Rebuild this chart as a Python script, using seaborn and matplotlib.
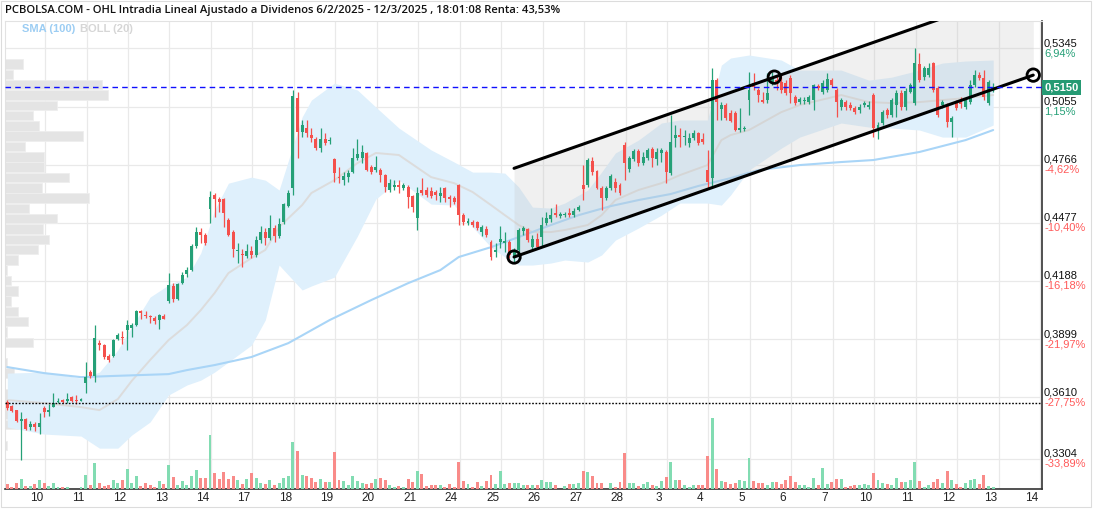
import numpy as np
import matplotlib
matplotlib.use('Agg')
import matplotlib.pyplot as plt
import matplotlib.transforms as mtransforms
from matplotlib.patches import Rectangle
import seaborn as sns

# ---- datos (velas intradia, ~9 por sesion) ----
apertura = [
    0.3586, 0.3566, 0.3546, 0.3492, 0.3502, 0.3462, 0.3477, 0.3462, 0.3556, 0.3536,
    0.3561, 0.3586, 0.3596, 0.3591, 0.3611, 0.3596, 0.3591, 0.3681, 0.3735, 0.3715,
    0.3879, 0.3869, 0.3815, 0.3815, 0.3899, 0.3909, 0.3944, 0.3954, 0.3969, 0.4038,
    0.4018, 0.4013, 0.4004, 0.3994, 0.4013, 0.4088, 0.4163, 0.4098, 0.4177, 0.4222,
    0.4242, 0.4361, 0.4431, 0.4416, 0.4545, 0.4615, 0.4595, 0.4595, 0.4491, 0.4431,
    0.4337, 0.4322, 0.4312, 0.4337, 0.4317, 0.4391, 0.4431, 0.4401, 0.4451, 0.4411,
    0.4481, 0.4560, 0.4650, 0.5097, 0.4928, 0.4948, 0.4913, 0.4893, 0.4848, 0.4893,
    0.4883, 0.4794, 0.4704, 0.4689, 0.4704, 0.4729, 0.4799, 0.4799, 0.4824, 0.4754,
    0.4739, 0.4739, 0.4714, 0.4640, 0.4655, 0.4665, 0.4650, 0.4655, 0.4610, 0.4501,
    0.4640, 0.4640, 0.4635, 0.4630, 0.4610, 0.4650, 0.4605, 0.4600, 0.4665, 0.4515,
    0.4476, 0.4481, 0.4481, 0.4431, 0.4446, 0.4381, 0.4332, 0.4381, 0.4376, 0.4381,
    0.4302, 0.4342, 0.4436, 0.4446, 0.4356, 0.4396, 0.4406, 0.4476, 0.4496, 0.4525,
    0.4511, 0.4515, 0.4525, 0.4515, 0.4540, 0.4665, 0.4665, 0.4784, 0.4734, 0.4650,
    0.4600, 0.4650, 0.4679, 0.4665, 0.4863, 0.4744, 0.4794, 0.4834, 0.4774, 0.4799,
    0.4843, 0.4794, 0.4824, 0.4829, 0.4724, 0.4898, 0.4913, 0.4903, 0.4873, 0.4898,
    0.4923, 0.4893, 0.4739, 0.4699, 0.5186, 0.5042, 0.5062, 0.5022, 0.5022, 0.4938,
    0.4943, 0.5087, 0.5171, 0.5137, 0.5087, 0.5087, 0.5171, 0.5186, 0.5176, 0.5171,
    0.5196, 0.5102, 0.5077, 0.5082, 0.5077, 0.5087, 0.5157, 0.5127, 0.5137, 0.5186,
    0.5137, 0.5052, 0.5077, 0.5062, 0.5047, 0.5037, 0.5062, 0.5052, 0.5112, 0.4948,
    0.4973, 0.5037, 0.5012, 0.5062, 0.5122, 0.5052, 0.5127, 0.5072, 0.5266, 0.5201,
    0.5211, 0.5271, 0.5147, 0.5062, 0.5062, 0.4978, 0.5072, 0.5087, 0.5052, 0.5077,
    0.5162, 0.5211, 0.5196, 0.5072, 0.5142,
]
maximo = [
    0.3596, 0.3571, 0.3546, 0.3536, 0.3507, 0.3492, 0.3487, 0.3531, 0.3566, 0.3576,
    0.3631, 0.3606, 0.3601, 0.3631, 0.3616, 0.3621, 0.3606, 0.3785, 0.3745, 0.3969,
    0.3894, 0.3874, 0.3825, 0.3899, 0.3929, 0.3939, 0.3994, 0.3979, 0.4043, 0.4043,
    0.4038, 0.4018, 0.4013, 0.4023, 0.4023, 0.4227, 0.4177, 0.4177, 0.4232, 0.4257,
    0.4371, 0.4456, 0.4451, 0.4426, 0.4635, 0.4625, 0.4605, 0.4600, 0.4501, 0.4441,
    0.4376, 0.4346, 0.4371, 0.4361, 0.4411, 0.4461, 0.4451, 0.4515, 0.4466, 0.4501,
    0.4575, 0.4640, 0.5137, 0.5127, 0.4988, 0.4988, 0.4948, 0.4903, 0.4948, 0.4923,
    0.4903, 0.4799, 0.4754, 0.4729, 0.4739, 0.4848, 0.4893, 0.4863, 0.4829, 0.4764,
    0.4809, 0.4749, 0.4719, 0.4694, 0.4689, 0.4689, 0.4674, 0.4665, 0.4615, 0.4655,
    0.4699, 0.4655, 0.4655, 0.4640, 0.4655, 0.4655, 0.4615, 0.4610, 0.4670, 0.4525,
    0.4501, 0.4491, 0.4486, 0.4466, 0.4461, 0.4391, 0.4376, 0.4461, 0.4431, 0.4391,
    0.4351, 0.4451, 0.4461, 0.4451, 0.4416, 0.4426, 0.4506, 0.4530, 0.4550, 0.4570,
    0.4530, 0.4530, 0.4550, 0.4550, 0.4565, 0.4764, 0.4799, 0.4804, 0.4739, 0.4660,
    0.4660, 0.4719, 0.4699, 0.4674, 0.4878, 0.4809, 0.4843, 0.4843, 0.4829, 0.4848,
    0.4853, 0.4848, 0.4848, 0.4839, 0.5012, 0.4963, 0.4948, 0.4938, 0.4923, 0.4938,
    0.4928, 0.4923, 0.4839, 0.5246, 0.5196, 0.5077, 0.5072, 0.5037, 0.5032, 0.5047,
    0.4958, 0.5226, 0.5221, 0.5147, 0.5127, 0.5221, 0.5226, 0.5211, 0.5211, 0.5186,
    0.5211, 0.5112, 0.5102, 0.5102, 0.5112, 0.5167, 0.5167, 0.5186, 0.5221, 0.5196,
    0.5147, 0.5097, 0.5087, 0.5077, 0.5057, 0.5067, 0.5082, 0.5082, 0.5122, 0.4978,
    0.5037, 0.5047, 0.5097, 0.5137, 0.5137, 0.5147, 0.5171, 0.5345, 0.5321, 0.5256,
    0.5271, 0.5276, 0.5157, 0.5087, 0.5072, 0.5007, 0.5087, 0.5102, 0.5097, 0.5186,
    0.5236, 0.5226, 0.5236, 0.5186, 0.5171,
]
minimo = [
    0.3546, 0.3536, 0.3487, 0.3298, 0.3447, 0.3447, 0.3442, 0.3427, 0.3512, 0.3517,
    0.3561, 0.3581, 0.3581, 0.3581, 0.3586, 0.3576, 0.3591, 0.3631, 0.3705, 0.3686,
    0.3845, 0.3800, 0.3785, 0.3810, 0.3894, 0.3874, 0.3845, 0.3909, 0.3964, 0.3999,
    0.4004, 0.3979, 0.3974, 0.3949, 0.3999, 0.4078, 0.4083, 0.4093, 0.4173, 0.4207,
    0.4237, 0.4351, 0.4376, 0.4366, 0.4476, 0.4506, 0.4530, 0.4456, 0.4411, 0.4307,
    0.4277, 0.4257, 0.4302, 0.4302, 0.4307, 0.4376, 0.4366, 0.4391, 0.4381, 0.4401,
    0.4471, 0.4555, 0.4615, 0.4799, 0.4903, 0.4903, 0.4878, 0.4839, 0.4829, 0.4863,
    0.4868, 0.4679, 0.4674, 0.4665, 0.4679, 0.4724, 0.4789, 0.4774, 0.4734, 0.4719,
    0.4729, 0.4679, 0.4630, 0.4630, 0.4640, 0.4625, 0.4640, 0.4550, 0.4530, 0.4441,
    0.4615, 0.4605, 0.4600, 0.4590, 0.4580, 0.4580, 0.4555, 0.4570, 0.4466, 0.4466,
    0.4466, 0.4456, 0.4441, 0.4411, 0.4406, 0.4292, 0.4307, 0.4351, 0.4332, 0.4302,
    0.4282, 0.4332, 0.4416, 0.4381, 0.4346, 0.4351, 0.4356, 0.4466, 0.4481, 0.4506,
    0.4501, 0.4506, 0.4506, 0.4506, 0.4535, 0.4590, 0.4655, 0.4714, 0.4645, 0.4540,
    0.4590, 0.4640, 0.4630, 0.4615, 0.4689, 0.4729, 0.4784, 0.4759, 0.4764, 0.4789,
    0.4754, 0.4764, 0.4779, 0.4674, 0.4714, 0.4853, 0.4853, 0.4863, 0.4853, 0.4888,
    0.4863, 0.4868, 0.4650, 0.4655, 0.4988, 0.4988, 0.4988, 0.4978, 0.4933, 0.4928,
    0.4933, 0.5012, 0.5137, 0.5077, 0.5072, 0.5072, 0.5162, 0.5137, 0.5122, 0.5112,
    0.5072, 0.5062, 0.5067, 0.5067, 0.5067, 0.5037, 0.5137, 0.5117, 0.5127, 0.5152,
    0.5003, 0.5037, 0.5037, 0.5037, 0.5017, 0.5022, 0.5052, 0.5042, 0.4903, 0.4893,
    0.4963, 0.4998, 0.5003, 0.5003, 0.5037, 0.5037, 0.5122, 0.5062, 0.5176, 0.5186,
    0.5201, 0.5127, 0.5003, 0.5047, 0.4953, 0.4903, 0.5037, 0.5047, 0.5042, 0.5067,
    0.5152, 0.5186, 0.5087, 0.5062, 0.5127,
]
cierre = [
    0.3556, 0.3541, 0.3492, 0.3502, 0.3452, 0.3477, 0.3462, 0.3482, 0.3536, 0.3546,
    0.3581, 0.3591, 0.3586, 0.3601, 0.3591, 0.3591, 0.3601, 0.3710, 0.3715, 0.3904,
    0.3869, 0.3810, 0.3795, 0.3894, 0.3919, 0.3904, 0.3969, 0.3969, 0.4038, 0.4028,
    0.4013, 0.4008, 0.3989, 0.4018, 0.3999, 0.4168, 0.4098, 0.4173, 0.4217, 0.4242,
    0.4361, 0.4431, 0.4416, 0.4376, 0.4605, 0.4595, 0.4580, 0.4525, 0.4416, 0.4346,
    0.4342, 0.4317, 0.4337, 0.4317, 0.4391, 0.4431, 0.4401, 0.4451, 0.4411, 0.4471,
    0.4570, 0.4625, 0.5107, 0.4928, 0.4963, 0.4923, 0.4898, 0.4848, 0.4893, 0.4873,
    0.4888, 0.4724, 0.4699, 0.4709, 0.4724, 0.4799, 0.4819, 0.4829, 0.4739, 0.4729,
    0.4754, 0.4714, 0.4655, 0.4674, 0.4665, 0.4655, 0.4665, 0.4605, 0.4555, 0.4625,
    0.4625, 0.4615, 0.4610, 0.4615, 0.4625, 0.4600, 0.4595, 0.4580, 0.4515, 0.4481,
    0.4486, 0.4466, 0.4451, 0.4456, 0.4416, 0.4307, 0.4342, 0.4396, 0.4386, 0.4317,
    0.4332, 0.4441, 0.4451, 0.4391, 0.4396, 0.4356, 0.4466, 0.4501, 0.4515, 0.4515,
    0.4520, 0.4520, 0.4515, 0.4535, 0.4555, 0.4645, 0.4789, 0.4729, 0.4650, 0.4600,
    0.4650, 0.4709, 0.4650, 0.4625, 0.4774, 0.4799, 0.4834, 0.4774, 0.4804, 0.4839,
    0.4799, 0.4829, 0.4839, 0.4729, 0.4878, 0.4913, 0.4903, 0.4908, 0.4898, 0.4923,
    0.4873, 0.4878, 0.4679, 0.5186, 0.5077, 0.5062, 0.4998, 0.4983, 0.4938, 0.4948,
    0.4948, 0.5137, 0.5152, 0.5112, 0.5077, 0.5122, 0.5201, 0.5176, 0.5137, 0.5122,
    0.5122, 0.5072, 0.5092, 0.5087, 0.5102, 0.5162, 0.5147, 0.5171, 0.5191, 0.5162,
    0.5077, 0.5087, 0.5052, 0.5047, 0.5027, 0.5052, 0.5072, 0.5062, 0.4948, 0.4963,
    0.5027, 0.5012, 0.5087, 0.5122, 0.5052, 0.5132, 0.5162, 0.5271, 0.5186, 0.5246,
    0.5246, 0.5137, 0.5012, 0.5077, 0.4978, 0.4998, 0.5047, 0.5067, 0.5087, 0.5162,
    0.5211, 0.5196, 0.5102, 0.5176, 0.5150,
]
volumen = [
    47, 23, 57, 97, 30, 30, 47, 87, 57, 30,
    57, 20, 20, 20, 0, 0, 20, 137, 37, 257,
    57, 30, 37, 87, 57, 87, 200, 57, 127, 30,
    57, 37, 23, 77, 47, 237, 117, 37, 77, 37,
    127, 187, 107, 107, 537, 157, 97, 167, 97, 127,
    87, 47, 97, 157, 107, 57, 47, 87, 37, 57,
    107, 127, 467, 380, 137, 127, 107, 67, 97, 67,
    67, 367, 87, 77, 37, 127, 77, 57, 47, 57,
    97, 107, 87, 37, 20, 30, 20, 97, 67, 177,
    147, 30, 37, 37, 37, 20, 47, 20, 267, 77,
    47, 20, 67, 30, 77, 137, 47, 177, 47, 57,
    57, 57, 37, 37, 37, 37, 87, 67, 67, 37,
    0, 27, 47, 47, 57, 177, 167, 127, 57, 57,
    0, 57, 20, 67, 357, 57, 57, 27, 47, 67,
    37, 27, 77, 117, 267, 87, 87, 37, 20, 37,
    37, 37, 327, 707, 197, 77, 67, 47, 57, 87,
    77, 307, 77, 57, 57, 37, 67, 67, 47, 87,
    127, 67, 37, 37, 20, 107, 37, 207, 47, 67,
    97, 97, 20, 27, 37, 37, 47, 37, 157, 87,
    57, 47, 37, 107, 67, 67, 87, 267, 77, 20,
    37, 67, 97, 57, 177, 87, 47, 20, 57, 87,
    97, 47, 137, 27, 20,
]

sma_barra = [0, 8, 16, 22, 35, 39, 45, 53, 61, 70, 79, 87, 94, 98, 105,
             111, 118, 124, 131, 137, 144, 150, 157, 163, 172, 181, 188, 198, 208, 214]
sma_valor = [0.3760, 0.3730, 0.3710, 0.3715, 0.3725, 0.3745, 0.3770, 0.3810, 0.3879, 0.3994,
             0.4093, 0.4177, 0.4242, 0.4307, 0.4356, 0.4406, 0.4466, 0.4515, 0.4560, 0.4590,
             0.4620, 0.4660, 0.4699, 0.4739, 0.4764, 0.4779, 0.4789, 0.4829, 0.4888, 0.4938]

boll_barra = [0, 8, 16, 20, 24, 27, 31, 35, 39, 42, 45, 48, 53, 56, 59, 64, 66, 71, 76, 80,
              85, 92, 97, 101, 105, 108, 111, 114, 118, 121, 126, 129, 132, 137, 142, 146,
              152, 155, 157, 161, 168, 172, 181, 187, 192, 198, 203, 208, 214]
boll_sup = [0.3730, 0.3735, 0.3705, 0.3735, 0.3845, 0.3959, 0.4108, 0.4168, 0.4207, 0.4327,
            0.4540, 0.4674, 0.4704, 0.4689, 0.4640, 0.5003, 0.5087, 0.5171, 0.5137, 0.5052,
            0.4948, 0.4839, 0.4779, 0.4729, 0.4729, 0.4724, 0.4655, 0.4555, 0.4550, 0.4575,
            0.4640, 0.4729, 0.4824, 0.4888, 0.4973, 0.4988, 0.4988, 0.5261, 0.5296, 0.5311,
            0.5286, 0.5236, 0.5236, 0.5186, 0.5201, 0.5236, 0.5271, 0.5281, 0.5286]
boll_inf = [0.3462, 0.3427, 0.3417, 0.3357, 0.3357, 0.3422, 0.3487, 0.3621, 0.3671, 0.3695,
            0.3735, 0.3785, 0.3869, 0.3994, 0.4267, 0.4143, 0.4163, 0.4207, 0.4411, 0.4595,
            0.4689, 0.4570, 0.4565, 0.4456, 0.4356, 0.4307, 0.4267, 0.4267, 0.4277, 0.4292,
            0.4282, 0.4317, 0.4391, 0.4451, 0.4515, 0.4575, 0.4575, 0.4565, 0.4615, 0.4739,
            0.4848, 0.4903, 0.4973, 0.4953, 0.4948, 0.4938, 0.4903, 0.4903, 0.4963]
boll_med = [0.3596, 0.3581, 0.3561, 0.3546, 0.3601, 0.3691, 0.3795, 0.3894, 0.3969, 0.4043,
            0.4128, 0.4227, 0.4302, 0.4342, 0.4456, 0.4565, 0.4625, 0.4689, 0.4774, 0.4824,
            0.4814, 0.4704, 0.4674, 0.4630, 0.4565, 0.4515, 0.4466, 0.4431, 0.4431, 0.4441,
            0.4466, 0.4515, 0.4590, 0.4640, 0.4674, 0.4714, 0.4764, 0.4888, 0.4913, 0.4938,
            0.5027, 0.5062, 0.5112, 0.5077, 0.5072, 0.5077, 0.5087, 0.5097, 0.5112]

# perfil de volumen por precio
perfil_precio = [0.5266, 0.5215, 0.5164, 0.5112, 0.5061, 0.5010, 0.4959, 0.4908, 0.4856, 0.4805,
                 0.4754, 0.4703, 0.4651, 0.4600, 0.4549, 0.4498, 0.4447, 0.4395, 0.4344, 0.4293,
                 0.4242, 0.4191, 0.4139, 0.4088, 0.4037, 0.3986, 0.3935, 0.3883, 0.3832, 0.3781,
                 0.3730, 0.3679, 0.3627, 0.3576, 0.3525, 0.3474, 0.3423, 0.3371]
perfil_vol = [18, 8, 97, 103, 52, 28, 34, 78, 20, 39, 39, 64, 37, 84, 24, 52, 38, 44, 33, 13,
              2, 6, 13, 6, 13, 23, 2, 28, 0, 2, 9, 0, 5, 13, 13, 13, 0, 2]

# canal dibujado (dos anclas abajo, una arriba)
canal_x = [110.0, 222.7]
canal_y = [0.4307, 0.5211]
canal_arriba = (166.5, 0.5201)

dias = ['10', '11', '12', '13', '14', '17', '18', '19', '20', '21', '24', '25', '26',
        '27', '28', '3', '4', '5', '6', '7', '10', '11', '12', '13', '14']
precios_eje = [0.5345, 0.5055, 0.4766, 0.4477, 0.4188, 0.3899, 0.3610, 0.3304]
pct_eje = ['6,94%', '1,15%', '-4,62%', '-10,40%', '-16,18%', '-21,97%', '-27,75%', '-33,89%']

ultimo = 0.5150
referencia = 0.3583

VERDE = '#25a077'
ROJO = '#f4504c'
VERDE_V = '#82dcb2'
ROJO_V = '#f98b89'

sns.set_theme(style='white')
plt.rcParams['font.family'] = ['Liberation Sans', 'DejaVu Sans']

W, H = 1096, 512
fig = plt.figure(figsize=(W / 100, H / 100), dpi=100)
ax = fig.add_axes([5 / W, 1 - 489 / H, 1037 / W, 468 / H])
ax.set_xlim(-0.5, 224.6)
ax.set_ylim(0.3154, 0.5480)

# rejilla
for p in precios_eje:
    ax.axhline(p, color='#e9e9e9', lw=0.9, zorder=0)
for k in range(len(dias)):
    ax.axvline(8.2 + 9 * k, color='#e9e9e9', lw=0.9, zorder=0)

# perfil de volumen a la izquierda
ancho = np.array(perfil_vol) / max(perfil_vol) * 22.4
ax.barh(perfil_precio, ancho, left=-0.5, height=0.0047, color='#e4e4e4',
        edgecolor='#eeeeee', linewidth=0.6, zorder=0.5)

# Bollinger + SMA
ax.fill_between(boll_barra, boll_inf, boll_sup, color='#dff0fc', lw=0, zorder=1)
sns.lineplot(x=boll_barra, y=boll_med, ax=ax, color='#dcdcdc', lw=1.4, zorder=1.2)
sns.lineplot(x=sma_barra, y=sma_valor, ax=ax, color='#a9d5f7', lw=1.5, zorder=1.3)

# canal
cx = np.array(canal_x)
cy = np.array(canal_y)
pend = (cy[1] - cy[0]) / (cx[1] - cx[0])
desp = canal_arriba[1] - (cy[0] + pend * (canal_arriba[0] - cx[0]))
ax.fill_between(cx, cy, cy + desp, color='#c4c4c4', alpha=0.25, lw=0, zorder=2)

# velas
x = np.arange(len(cierre))
o = np.array(apertura)
c = np.array(cierre)
sube = c >= o
col = np.where(sube, VERDE, ROJO)
ax.vlines(x, minimo, maximo, colors=col, lw=0.9, zorder=3)
ax.bar(x, np.maximum(np.abs(c - o), 0.0004), bottom=np.minimum(o, c), width=0.64,
       color=col, linewidth=0, zorder=3.1)

ax.plot(cx, cy, color='black', lw=2.2, zorder=4, solid_capstyle='round')
ax.plot(cx, cy + desp, color='black', lw=2.2, zorder=4, solid_capstyle='round')
ax.scatter([cx[0], canal_arriba[0], cx[1]], [cy[0], canal_arriba[1], cy[1]], s=80,
           facecolors='none', edgecolors='black', linewidths=2, zorder=5)

# lineas horizontales
ax.axhline(ultimo, color='#1010ff', lw=1, dashes=(4, 3), zorder=4.5)
ax.axhline(referencia, color='black', lw=1, ls=(0, (1.2, 1.2)), zorder=4.5)

# volumen
axv = ax.twinx()
axv.set_ylim(0, 4660)
axv.bar(x, volumen, width=0.64, color=np.where(sube, VERDE_V, ROJO_V), linewidth=0)
axv.set_yticks([])
for s in axv.spines.values():
    s.set_visible(False)

# ejes
ax.set_yticks([])
ax.set_xticks([6.4 + 9 * k for k in range(len(dias))])
ax.set_xticklabels(dias, fontsize=8.5, color='#222222',
                   family=['Liberation Sans Narrow', 'Liberation Sans'])
ax.tick_params(axis='x', length=0, pad=2.5)
for lado in ['left', 'top']:
    ax.spines[lado].set_color('#e2e2e2')
    ax.spines[lado].set_linewidth(0.8)
for lado in ['right', 'bottom']:
    ax.spines[lado].set_color('#333333')
    ax.spines[lado].set_linewidth(1.2)

trans = mtransforms.blended_transform_factory(ax.transAxes, ax.transData)
for p, t in zip(precios_eje, pct_eje):
    ax.text(1.002, p, f'{p:.4f}'.replace('.', ','), transform=trans, fontsize=8,
            color='#111111', va='bottom', ha='left')
    ax.text(1.002, p, t, transform=trans, fontsize=8, va='top', ha='left',
            color=VERDE if not t.startswith('-') else '#ff5a5a')
ax.text(1.0025, ultimo, f'{ultimo:.4f}'.replace('.', ','), transform=trans, fontsize=8,
        color='white', weight='bold', va='center', ha='left', zorder=10,
        bbox=dict(boxstyle='square,pad=0.22', fc='#259a73', ec='none'))

# cabecera
fig.text(5 / W, 1 - 11 / H,
         'PCBOLSA.COM - OHL Intradia Lineal Ajustado a Dividenos 6/2/2025 - 12/3/2025 , '
         '18:01:08 Renta: 43,53%',
         fontsize=8.1, weight='semibold', family=['Open Sans', 'DejaVu Sans'],
         color='#111111', va='center', ha='left')
fig.text(22 / W, 1 - 29.5 / H, 'SMA (100)', fontsize=8, weight='bold', color='#9ccdf3',
         va='center', ha='left')
fig.text(80 / W, 1 - 29.5 / H, 'BOLL (20)', fontsize=8, weight='bold', color='#d6d6d6',
         va='center', ha='left')

fig.add_artist(Rectangle((0.5 / W, 1 - 507 / H), 1090.5 / W, 506.5 / H,
                         transform=fig.transFigure, fill=False, ec='#dcdcdc', lw=0.8))

fig.savefig('out.png', dpi=100)
